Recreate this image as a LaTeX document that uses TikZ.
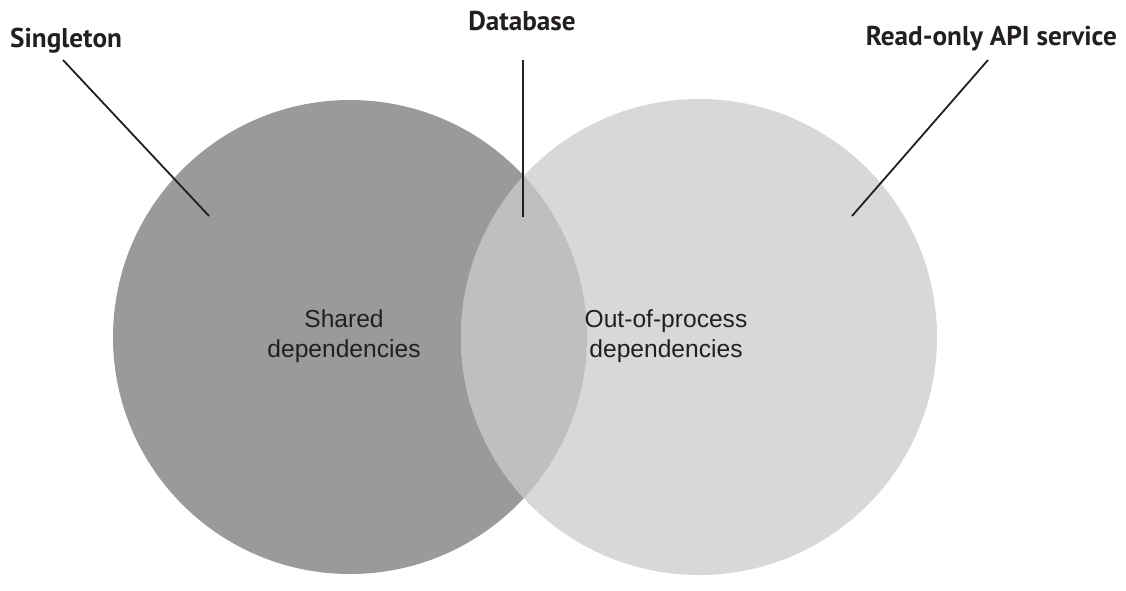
\documentclass[tikz,border=0pt]{standalone}
\usepackage{fontspec}
\setmainfont{Liberation Sans}
\newfontfamily\labelfont{PT Sans}[BoldFont={* Bold}]
\definecolor{leftc}{RGB}{153,154,156}
\definecolor{rightc}{RGB}{216,216,214}
\definecolor{midc}{RGB}{190,191,193}
\definecolor{ink}{RGB}{35,31,32}
\begin{document}
\begin{tikzpicture}[x=1pt,y=-1pt,
  toplabel/.style={inner sep=0pt,text=ink,font=\labelfont\bfseries\fontsize{27.2}{30}\selectfont},
  bodylabel/.style={inner sep=0pt,text=ink,align=center,font=\fontsize{24.6}{30}\selectfont},
  leader/.style={draw=ink,line width=1.8pt}]
\useasboundingbox (0,0) rectangle (1126,590);
\fill[leftc] (350,337) circle (237);
\fill[rightc] (699,337) circle (238);
\begin{scope}
  \clip (350,337) circle (237);
  \fill[midc] (699,337) circle (238);
\end{scope}
\node[toplabel,anchor=base west] (single) at (10,47) {Singleton};
\node[toplabel,anchor=base] (db) at (522,30) {Database};
\node[toplabel,anchor=base east] (api) at (1117,45) {Read-only API service};
\coordinate (s1) at (63,60);
\coordinate (s2) at (209,216);
\coordinate (d1) at (523,60);
\coordinate (d2) at (523,217);
\coordinate (a1) at (988,60);
\coordinate (a2) at (852,216);
\draw[leader] (s1) -- (s2);
\draw[leader] (d1) -- (d2);
\draw[leader] (a1) -- (a2);
\node[bodylabel] (shared) at (344,336) {Shared\\dependencies};
\node[bodylabel] (oop) at (666,336) {Out-of-process\\dependencies};
\end{tikzpicture}
\end{document}
